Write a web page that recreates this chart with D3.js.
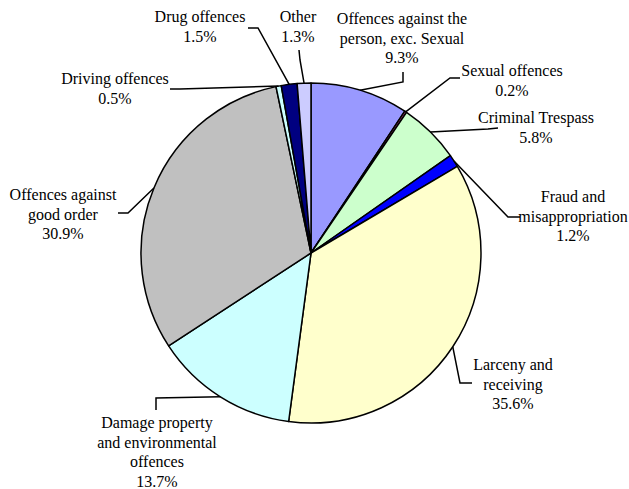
<!DOCTYPE html>
<html>
<head>
<meta charset="utf-8">
<script src="https://cdn.jsdelivr.net/npm/d3@7"></script>
<style>
  html, body { margin: 0; padding: 0; background: #fff; }
  svg { display: block; }
</style>
</head>
<body>
<svg id="chart" width="629" height="489"></svg>
<script>
// ---- data ----
const categories = [
  "Offences against the person, exc. Sexual",
  "Sexual offences",
  "Criminal Trespass",
  "Fraud and misappropriation",
  "Larceny and receiving",
  "Damage property and environmental offences",
  "Offences against good order",
  "Driving offences",
  "Drug offences",
  "Other"
];
const values = [9.3, 0.2, 5.8, 1.2, 35.6, 13.7, 30.9, 0.5, 1.5, 1.3];
const labelLines = [
  ["Offences against the", "person, exc. Sexual"],
  ["Sexual offences"],
  ["Criminal Trespass"],
  ["Fraud and", "misappropriation"],
  ["Larceny and", "receiving"],
  ["Damage property", "and environmental", "offences"],
  ["Offences against", "good order"],
  ["Driving offences"],
  ["Drug offences"],
  ["Other"]
];
const colors = ["#9999FF", "#993366", "#CCFFCC", "#0000FF", "#FFFFCC",
                "#CCFFFF", "#C0C0C0", "#CCFFFF", "#000080", "#CCCCFF"];

// ---- layout (label anchor: centre x, first baseline; leader path points after the arc point) ----
const layout = [
  { x: 402, y: 24,  pts: [[403, 82], [403, 72]] },
  { x: 512, y: 76,  pts: [[450, 78], [460, 78]] },
  { x: 536, y: 123, pts: [[488, 129], [498, 128]] },
  { x: 573, y: 202, pts: [[508, 217], [520, 217]] },
  { x: 513, y: 370, pts: [[460, 383], [472, 383]] },
  { x: 157, y: 428, pts: [[156, 398], [156, 410]] },
  { x: 63,  y: 200, pts: [[128, 213], [118, 213]] },
  { x: 115, y: 84,  pts: [[180, 89], [170, 89]] },
  { x: 200, y: 22,  pts: [[258, 28], [248, 28]] },
  { x: 298, y: 22,  pts: [[300, 60], [299, 50]] }
];
const lineH = 19.5;
const FONT = "'Liberation Serif'";

const svg = d3.select("#chart");
const cx = 311, cy = 253, r = 170;
const g = svg.append("g").attr("transform", `translate(${cx},${cy})`);

const pie = d3.pie().sort(null).value(d => d)(values);
const arc = d3.arc().innerRadius(0).outerRadius(r);

g.selectAll("path.slice").data(pie).join("path")
  .attr("class", "slice")
  .attr("d", arc)
  .attr("fill", (d, i) => colors[i])
  .attr("stroke", "#000")
  .attr("stroke-width", 1.5)
  .attr("stroke-linejoin", "round");

// leader lines
const line = d3.line();
pie.forEach((d, i) => {
  const a = (d.startAngle + d.endAngle) / 2;
  const p0 = [cx + r * Math.sin(a), cy - r * Math.cos(a)];
  svg.append("path")
    .attr("d", line([p0, ...layout[i].pts]))
    .attr("fill", "none")
    .attr("stroke", "#000")
    .attr("stroke-width", 1.5);
});

// labels
pie.forEach((d, i) => {
  const lines = labelLines[i].concat([values[i].toFixed(1) + "%"]);
  const t = svg.append("text")
    .attr("text-anchor", "middle")
    .attr("font-size", 16)
    .attr("fill", "#000")
    .style("font-family", FONT)
    .attr("x", layout[i].x)
    .attr("y", layout[i].y);
  lines.forEach((s, j) => {
    t.append("tspan").attr("x", layout[i].x).attr("y", layout[i].y + j * lineH).text(s);
  });
});
</script>
</body>
</html>
